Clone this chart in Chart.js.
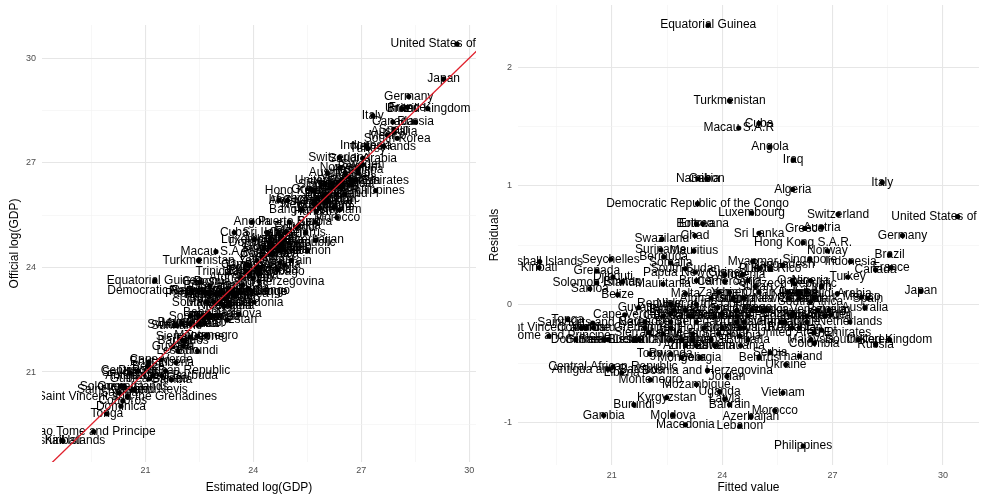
<!DOCTYPE html>
<html>
<head>
<meta charset="utf-8">
<script src="https://cdn.jsdelivr.net/npm/chart.js@4.4.1/dist/chart.umd.min.js"></script>
<style>
html,body{margin:0;padding:0;background:#fff;}
#wrap{position:relative;width:983px;height:495px;}
canvas{position:absolute;left:0;top:0;}
</style>
</head>
<body>
<div id="wrap">
<canvas id="c1" width="983" height="495"></canvas>
<canvas id="c2" width="983" height="495"></canvas>
</div>
<script>
const countries = [
"United States of America","Japan","Germany","France","Brazil","United Kingdom","Italy","Canada","Russia","Spain",
"Australia","Mexico","South Korea","Indonesia","Netherlands","Turkey","Switzerland","Saudi Arabia","Sweden","Belgium",
"Norway","Argentina","Austria","Iran","Egypt","Venezuela","Denmark","United Arab Emirates","Colombia","Nigeria",
"Malaysia","South Africa","Singapore","Finland","Israel","Chile","Greece","Philippines","Hong Kong S.A.R.","Pakistan",
"Ireland","Portugal","Thailand","Poland","Czech Republic","Iraq","Algeria","Kazakhstan","Romania","Peru",
"Qatar","New Zealand","Kuwait","Ukraine","Tanzania","Bangladesh","Vietnam","Hungary","Morocco","Serbia",
"Angola","Puerto Rico","Slovakia","Ecuador","Cuba","Sri Lanka","Oman","Belarus","Libya","Sudan",
"Myanmar","Luxembourg","Croatia","Azerbaijan","Syria","Dominican Republic","Bulgaria","Uzbekistan","Guatemala","Tunisia",
"Slovenia","Lithuania","Kenya","Ethiopia","Lebanon","Macau S.A.R","Ghana","Costa Rica","Uruguay","Panama",
"Turkmenistan","Bahrain","Yemen","Jordan","Cyprus","Latvia","Cameroon","Ivory Coast","Bolivia","Uganda",
"El Salvador","Zambia","Trinidad and Tobago","Paraguay","Estonia","Nepal","Afghanistan","Equatorial Guinea","Bosnia and Herzegovina","Gabon",
"Honduras","Botswana","Georgia","Namibia","Democratic Republic of the Congo","Eritrea","Mozambique","Republic of the Congo","Senegal","Brunei",
"Zimbabwe","Chad","Papua New Guinea","Mauritius","Jamaica","Albania","Iceland","Burkina Faso","Macedonia","South Sudan",
"Malta","Madagascar","Armenia","Somalia","Nicaragua","Mongolia","Bahamas","Moldova","Haiti","Benin",
"Laos","Niger","Tajikistan","Rwanda","Kyrgyzstan","Bermuda","Guinea","Malawi","Mauritania","Swaziland",
"Suriname","Montenegro","Togo","Sierra Leone","Fiji","Barbados","Guyana","Mali","Burundi","Lesotho",
"Cape Verde","Bhutan","Liberia","Belize","Djibouti","Central African Republic","Seychelles","Antigua and Barbuda","Saint Lucia","Guinea-Bissau",
"Gambia","Grenada","Solomon Islands","Vanuatu","Saint Kitts and Nevis","Samoa","Saint Vincent and the Grenadines","Comoros","Dominica","Tonga",
"Sao Tome and Principe","Marshall Islands","Kiribati"
];
const estimated = [
29.66,29.29,28.32,28.28,28.13,28.85,27.32,27.88,28.51,27.91,
27.91,27.73,28.00,27.13,27.62,27.18,26.39,27.04,27.04,26.95,
26.41,26.90,26.06,26.55,26.92,26.65,26.45,26.74,26.83,26.20,
26.71,26.38,26.00,26.40,26.20,26.45,25.60,27.40,25.68,26.30,
26.00,26.05,26.54,25.95,25.80,24.71,24.95,26.00,26.10,26.00,
25.70,25.75,25.70,26.24,25.85,25.32,26.40,25.75,26.33,25.71,
23.97,25.00,25.25,25.20,23.47,24.40,24.90,25.45,24.70,24.75,
24.47,24.03,24.85,25.73,24.50,24.80,25.00,24.80,24.55,24.75,
24.30,24.85,24.70,24.75,25.51,22.96,24.50,24.45,24.55,24.25,
22.48,25.05,24.10,24.74,23.82,24.87,23.88,24.08,24.20,24.67,
24.15,23.80,23.91,23.90,24.15,24.00,23.65,21.26,24.16,22.52,
23.70,22.79,23.85,22.28,22.48,22.62,23.98,23.30,23.45,23.10,
23.65,22.68,22.99,22.78,23.30,23.50,23.45,23.20,24.02,22.70,
22.91,23.05,23.35,22.25,23.20,23.35,22.75,23.60,22.80,22.75,
22.68,22.60,22.90,23.02,23.28,22.01,22.50,22.65,22.22,21.81,
21.87,22.69,22.45,22.24,22.10,22.05,21.76,22.05,22.45,21.90,
21.44,21.10,21.85,21.08,20.80,21.56,20.59,21.45,21.20,21.10,
21.72,20.31,20.41,20.70,20.64,20.27,20.50,20.37,20.32,19.93,
19.56,18.68,18.71
];
const official = [
30.40,29.40,28.90,28.59,28.55,28.55,28.35,28.17,28.17,27.96,
27.88,27.79,27.70,27.49,27.47,27.41,27.15,27.13,26.95,26.90,
26.86,26.80,26.71,26.70,26.70,26.60,26.50,26.50,26.50,26.40,
26.41,26.40,26.38,26.30,26.30,26.30,26.24,26.20,26.20,26.10,
26.10,26.10,26.10,26.05,25.97,25.93,25.92,25.92,25.90,25.90,
25.90,25.80,25.80,25.73,25.70,25.65,25.65,25.60,25.43,25.30,
25.30,25.30,25.20,25.15,25.00,25.00,25.00,25.00,25.00,24.90,
24.83,24.80,24.80,24.78,24.70,24.70,24.70,24.60,24.60,24.60,
24.55,24.50,24.50,24.48,24.48,24.45,24.40,24.40,24.40,24.30,
24.20,24.20,24.20,24.13,24.07,24.07,24.07,24.00,24.00,23.93,
23.90,23.90,23.88,23.80,23.80,23.70,23.70,23.62,23.60,23.58,
23.50,23.47,23.40,23.34,23.33,23.30,23.30,23.30,23.30,23.30,
23.30,23.26,23.26,23.23,23.20,23.20,23.20,23.10,23.00,23.00,
23.00,23.00,23.00,22.60,22.90,22.90,22.70,22.66,22.60,22.60,
22.60,22.60,22.60,22.60,22.49,22.41,22.40,22.40,22.39,22.36,
22.33,22.05,22.03,22.00,21.90,21.90,21.73,21.75,21.60,21.60,
21.35,21.29,21.27,21.16,21.03,21.03,20.97,20.90,20.90,20.80,
20.78,20.59,20.59,20.50,20.48,20.40,20.30,20.17,20.02,19.80,
19.29,19.04,19.02
];
const residuals = [
0.74,0.11,0.58,0.31,0.42,-0.30,1.03,0.29,-0.34,0.05,
-0.03,0.06,-0.30,0.36,-0.15,0.23,0.76,0.09,-0.09,-0.05,
0.45,-0.10,0.65,0.15,-0.22,-0.05,0.05,-0.24,-0.33,0.20,
-0.30,0.02,0.38,-0.10,0.10,-0.15,0.64,-1.20,0.52,-0.20,
0.10,0.05,-0.44,0.10,0.17,1.22,0.97,-0.08,-0.20,-0.10,
0.20,0.05,0.10,-0.51,-0.15,0.33,-0.75,-0.15,-0.90,-0.41,
1.33,0.30,-0.05,-0.05,1.53,0.60,0.10,-0.45,0.30,0.15,
0.36,0.77,-0.05,-0.95,0.20,-0.10,-0.30,-0.20,0.05,-0.15,
0.25,-0.35,-0.20,-0.27,-1.03,1.49,-0.10,-0.05,-0.15,0.05,
1.72,-0.85,0.10,-0.61,0.25,-0.80,0.19,-0.08,-0.20,-0.74,
-0.25,0.10,-0.03,-0.10,-0.35,-0.30,0.05,2.36,-0.56,1.06,
-0.20,0.68,-0.45,1.06,0.85,0.68,-0.68,0.00,-0.15,0.20,
-0.35,0.58,0.27,0.45,-0.10,-0.30,-0.25,-0.10,-1.02,0.30,
0.09,-0.05,-0.35,0.35,-0.30,-0.45,-0.05,-0.94,-0.20,-0.15,
-0.08,0.00,-0.30,-0.42,-0.79,0.40,-0.10,-0.25,0.17,0.55,
0.46,-0.64,-0.42,-0.24,-0.20,-0.15,-0.03,-0.30,-0.85,-0.30,
-0.09,0.19,-0.58,0.08,0.23,-0.53,0.38,-0.55,-0.30,-0.30,
-0.94,0.28,0.18,-0.20,-0.16,0.13,-0.20,-0.20,-0.30,-0.13,
-0.27,0.36,0.31
];
// 45-degree reference line (Official = Estimated)
const identityLine = [18.1, 30.2];

// axis ticks (grid) and labelled ticks
const leftXTicks = [19.5, 21, 22.5, 24, 25.5, 27, 28.5, 30];
const leftYTicks = [19.5, 21, 22.5, 24, 25.5, 27, 28.5, 30];
const leftLabelled = [21, 24, 27, 30];
const rightXTicks = [19.5, 21, 22.5, 24, 25.5, 27, 28.5, 30];
const rightXLabelled = [21, 24, 27, 30];
const rightYTicks = [-1, -0.5, 0, 0.5, 1, 1.5, 2];
const rightYLabelled = [-1, 0, 1, 2];

const FONT = '"Liberation Sans", Arial, Helvetica, sans-serif';
Chart.defaults.font.family = FONT;

const labelPlugin = {
  id: 'pointLabels',
  afterDatasetDraw(chart, args) {
    if (args.index !== 0) return;
    const ctx = chart.ctx, a = chart.chartArea;
    ctx.save();
    ctx.beginPath();
    ctx.rect(a.left, a.top, a.right - a.left, a.bottom - a.top);
    ctx.clip();
    ctx.font = '12px ' + FONT;
    ctx.fillStyle = '#000';
    ctx.textAlign = 'center';
    ctx.textBaseline = 'middle';
    args.meta.data.forEach((el, i) => ctx.fillText(countries[i], el.x, el.y));
    ctx.restore();
  }
};

function gridOpts(labelled) {
  return {
    drawTicks: false,
    color: c => (c.tick && labelled.includes(c.tick.value)) ? '#e6e6e6' : '#f2f2f2',
    lineWidth: c => (c.tick && labelled.includes(c.tick.value)) ? 1.1 : 0.6
  };
}
function tickOpts(labelled, pad) {
  return {
    autoSkip: false, maxRotation: 0, padding: pad,
    color: '#4d4d4d', font: { size: 9 },
    callback: v => labelled.includes(v) ? String(v) : ''
  };
}
function fitX(h) {
  return s => { s.height = h; s.paddingLeft = 0; s.paddingRight = 0; };
}
function fitY(w) {
  return s => { s.width = w; s.paddingTop = 0; s.paddingBottom = 0; };
}

const ptsLeft = countries.map((n, i) => ({ x: estimated[i], y: official[i] }));
const ptsRight = countries.map((n, i) => ({ x: official[i], y: residuals[i] }));

new Chart(document.getElementById('c1'), {
  type: 'scatter',
  data: {
    datasets: [
      { data: ptsLeft, backgroundColor: '#000', borderWidth: 0, pointRadius: 2.6, order: 1 },
      { data: identityLine.map(v => ({ x: v, y: v })), showLine: true, borderColor: '#e0202c',
        borderWidth: 1.3, pointRadius: 0, order: 0 }
    ]
  },
  options: {
    responsive: false, animation: false, devicePixelRatio: 1,
    layout: { padding: { left: 0, top: 25, right: 507, bottom: 0 } },
    plugins: { legend: { display: false }, tooltip: { enabled: false } },
    scales: {
      x: {
        type: 'linear', min: 18.125, max: 30.19,
        afterBuildTicks: s => { s.ticks = leftXTicks.map(v => ({ value: v })); },
        afterFit: fitX(33),
        grid: gridOpts(leftLabelled), border: { display: false },
        ticks: tickOpts(leftLabelled, 3),
        title: { display: true, text: 'Estimated log(GDP)', color: '#000', font: { size: 12 }, padding: { top: 2, bottom: 0 } }
      },
      y: {
        type: 'linear', min: 18.42, max: 30.95,
        afterBuildTicks: s => { s.ticks = leftYTicks.map(v => ({ value: v })); },
        afterFit: fitY(42),
        grid: gridOpts(leftLabelled), border: { display: false },
        ticks: tickOpts(leftLabelled, 6),
        title: { display: true, text: 'Official log(GDP)', color: '#000', font: { size: 12 }, padding: { top: 7, bottom: 0 } }
      }
    }
  },
  plugins: [labelPlugin]
});

new Chart(document.getElementById('c2'), {
  type: 'scatter',
  data: {
    datasets: [
      { data: ptsRight, backgroundColor: '#000', borderWidth: 0, pointRadius: 2.6 }
    ]
  },
  options: {
    responsive: false, animation: false, devicePixelRatio: 1,
    layout: { padding: { left: 487, top: 5, right: 4, bottom: 0 } },
    plugins: { legend: { display: false }, tooltip: { enabled: false } },
    scales: {
      x: {
        type: 'linear', min: 18.45, max: 30.98,
        afterBuildTicks: s => { s.ticks = rightXTicks.map(v => ({ value: v })); },
        afterFit: fitX(30),
        grid: gridOpts(rightXLabelled), border: { display: false },
        ticks: tickOpts(rightXLabelled, 5),
        title: { display: true, text: 'Fitted value', color: '#000', font: { size: 12 }, padding: { top: 1, bottom: 0 } }
      },
      y: {
        type: 'linear', min: -1.36, max: 2.53,
        afterBuildTicks: s => { s.ticks = rightYTicks.map(v => ({ value: v })); },
        afterFit: fitY(31),
        grid: gridOpts(rightYLabelled), border: { display: false },
        ticks: tickOpts(rightYLabelled, 6),
        title: { display: true, text: 'Residuals', color: '#000', font: { size: 12 }, padding: { top: 0, bottom: 0 } }
      }
    }
  },
  plugins: [labelPlugin]
});
</script>
</body>
</html>
